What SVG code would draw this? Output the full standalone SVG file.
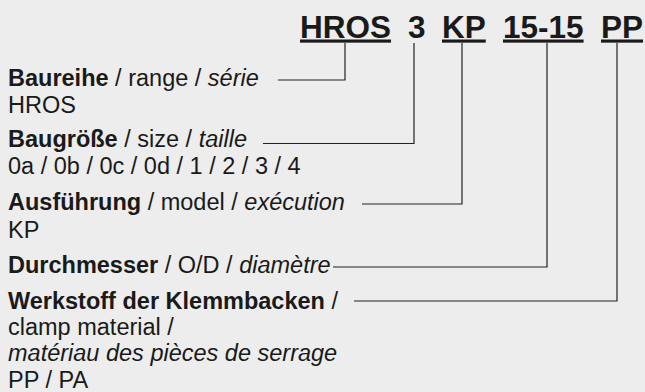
<svg xmlns="http://www.w3.org/2000/svg" width="645" height="392" viewBox="0 0 645 392">
<style>
text{font-family:"Liberation Sans",Arial,Helvetica,sans-serif;fill:#1a1a1a;}
.t{font-size:31.5px;font-weight:bold;}
.u{text-decoration:underline;}
.l{font-size:23.5px;}
.b{font-weight:bold;}
.i{font-style:italic;}
.c{fill:none;stroke:#222;stroke-width:1.2;}
</style>
<rect width="645" height="392" fill="#ecedec"/>
<g id="code">
<text class="t u" x="300" y="37.5">HROS</text>
<text class="t" x="408" y="37.5">3</text>
<text class="t u" x="442" y="37.5">KP</text>
<text class="t u" x="503" y="37.5">15-15</text>
<text class="t u" x="601" y="37.5">PP</text>
</g>
<g id="connectors">
<polyline class="c" points="345,43 345,80 278,80"/>
<polyline class="c" points="414,43 414,143.5 263,143.5"/>
<polyline class="c" points="462,43 462,204 362,204"/>
<polyline class="c" points="547,43 547,267 333,267"/>
<polyline class="c" points="617,43 617,301 354,301"/>
</g>
<g id="baureihe">
<text class="l" x="8" y="86"><tspan class="b">Baureihe</tspan> / range / <tspan class="i">série</tspan></text>
<text class="l" x="8" y="113">HROS</text>
</g>
<g id="baugroesse">
<text class="l" x="8" y="147"><tspan class="b">Baugröße</tspan> / size / <tspan class="i">taille</tspan></text>
<text class="l" x="8" y="174">0a / 0b / 0c / 0d / 1 / 2 / 3 / 4</text>
</g>
<g id="ausfuehrung">
<text class="l" x="8" y="210"><tspan class="b">Ausführung</tspan> / model / <tspan class="i">exécution</tspan></text>
<text class="l" x="8" y="238">KP</text>
</g>
<g id="durchmesser">
<text class="l" x="8" y="273"><tspan class="b">Durchmesser</tspan> / O/D / <tspan class="i">diamètre</tspan></text>
</g>
<g id="werkstoff">
<text class="l" x="8" y="309"><tspan class="b">Werkstoff der Klemmbacken</tspan> /</text>
<text class="l" x="8" y="335">clamp material /</text>
<text class="l i" x="8" y="361">matériau des pièces de serrage</text>
<text class="l" x="8" y="388">PP / PA</text>
</g>
</svg>
